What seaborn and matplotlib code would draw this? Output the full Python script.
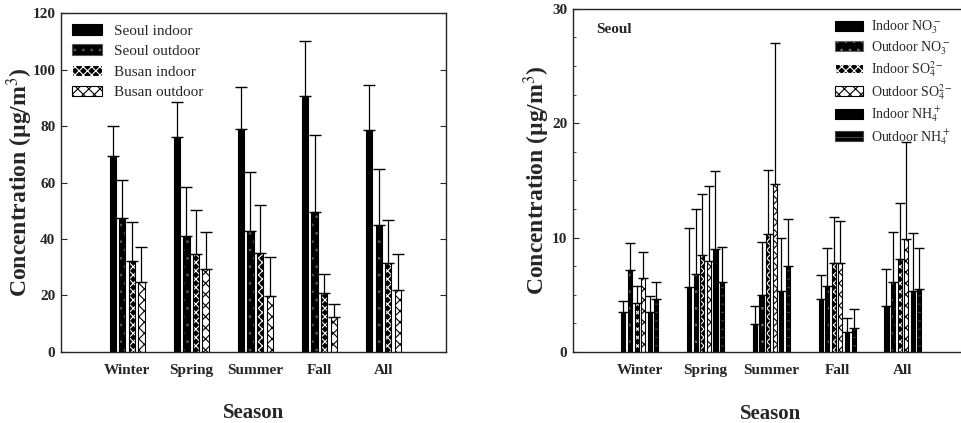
import numpy as np
import pandas as pd
import seaborn as sns
import matplotlib.pyplot as plt
from matplotlib.ticker import MultipleLocator

sns.set_style("ticks")
plt.rcParams['font.family'] = ['Liberation Serif', 'DejaVu Serif']
plt.rcParams['mathtext.fontset'] = 'stix'
plt.rcParams['hatch.linewidth'] = 0.8

seasons = ["Winter", "Spring", "Summer", "Fall", "All"]

# PM concentrations (mean, sd) - left panel
pm_groups = ["Seoul indoor", "Seoul outdoor", "Busan indoor", "Busan outdoor"]
seoul_in = [69.5, 76.0, 79.0, 90.5, 78.7]
seoul_in_sd = [10.5, 12.6, 15.0, 19.8, 15.8]
seoul_out = [47.3, 41.0, 43.0, 49.6, 45.0]
seoul_out_sd = [13.7, 17.4, 20.6, 27.4, 19.8]
busan_in = [32.3, 34.8, 35.0, 20.9, 31.6]
busan_in_sd = [13.6, 15.5, 17.0, 6.8, 15.0]
busan_out = [24.7, 29.3, 19.9, 12.2, 21.9]
busan_out_sd = [12.5, 13.3, 13.6, 4.9, 12.9]

# ions in Seoul (mean, sd) - right panel
ion_groups = ["Indoor NO$_3^-$", "Outdoor NO$_3^-$", "Indoor SO$_4^{2-}$",
              "Outdoor SO$_4^{2-}$", "Indoor NH$_4^+$", "Outdoor NH$_4^+$"]
in_no3 = [3.45, 5.7, 2.4, 4.6, 4.0]
in_no3_sd = [1.0, 5.1, 1.65, 2.1, 3.25]
out_no3 = [7.15, 6.8, 5.0, 5.8, 6.1]
out_no3_sd = [2.4, 5.7, 4.6, 3.3, 4.4]
in_so4 = [4.25, 8.5, 10.3, 7.8, 8.1]
in_so4_sd = [1.5, 5.3, 5.6, 4.0, 4.95]
out_so4 = [6.45, 7.95, 14.7, 7.8, 9.85]
out_so4_sd = [2.3, 6.55, 12.3, 3.65, 8.55]
in_nh4 = [3.45, 9.0, 5.3, 1.7, 5.3]
in_nh4_sd = [1.45, 6.8, 4.7, 1.3, 5.1]
out_nh4 = [4.65, 6.1, 7.5, 2.1, 5.5]
out_nh4_sd = [1.5, 3.1, 4.1, 1.65, 3.6]

pm_means = [seoul_in, seoul_out, busan_in, busan_out]
pm_sds = [seoul_in_sd, seoul_out_sd, busan_in_sd, busan_out_sd]
ion_means = [in_no3, out_no3, in_so4, out_so4, in_nh4, out_nh4]
ion_sds = [in_no3_sd, out_no3_sd, in_so4_sd, out_so4_sd, in_nh4_sd, out_nh4_sd]

# (face, hatch colour, hatch)
pm_styles = [("black", "black", None), ("black", "#555555", ".."),
             ("black", "white", "xxxx"), ("white", "black", "xxx")]
ion_styles = [("black", "black", None), ("black", "#666666", ".."),
              ("black", "white", "xxxx"), ("white", "black", "xxx"),
              ("black", "black", None), ("black", "#444444", "--")]


def long_table(groups, means, sds):
    rows = []
    for g, m, s in zip(groups, means, sds):
        for season, v, e in zip(seasons, m, s):
            rows.append({"Season": season, "group": g, "value": v, "sd": e})
    return pd.DataFrame(rows)


def draw(ax, df, groups, styles, gap, capsize):
    sns.barplot(data=df, x="Season", y="value", hue="group", order=seasons,
                hue_order=groups, width=0.6, gap=gap, errorbar=None, ax=ax,
                legend=False)
    bars = list(ax.containers)
    for i, cont in enumerate(bars):
        face, hc, hatch = styles[i]
        sub = df[df["group"] == groups[i]].set_index("Season").loc[seasons]
        xs = []
        for bar in cont:
            bar.set_facecolor(face)
            bar.set_edgecolor(hc)
            bar.set_linewidth(0)
            if hatch:
                bar.set_hatch(hatch)
            xs.append(bar.get_x() + bar.get_width() / 2)
            ax.add_patch(plt.Rectangle((bar.get_x(), 0), bar.get_width(),
                                       bar.get_height(), fill=False,
                                       edgecolor="black", lw=0.8, zorder=3))
        xs = np.array(xs)
        ax.errorbar(xs, sub["value"], yerr=[np.zeros(len(xs)), sub["sd"]],
                    fmt="none", ecolor="black", elinewidth=0.9,
                    capsize=capsize, capthick=1.0, zorder=4)
    handles = []
    for face, hc, hatch in styles:
        handles.append(plt.Rectangle((0, 0), 1, 1, facecolor=face,
                                     edgecolor=hc if hatch else "black",
                                     hatch=hatch, lw=0.8))
    return handles


fig = plt.figure(figsize=(9.61, 4.23), dpi=100)
ax1 = fig.add_axes([0.0635, 0.168, 0.401, 0.801])
ax2 = fig.add_axes([0.596, 0.168, 0.412, 0.811])

df_pm = long_table(pm_groups, pm_means, pm_sds)
h1 = draw(ax1, df_pm, pm_groups, pm_styles, gap=0.35, capsize=4)
ax1.set_xlim(-1.03, 4.98)
ax1.set_ylim(0, 120)
ax1.yaxis.set_major_locator(MultipleLocator(20))
ax1.legend(h1, pm_groups, loc="upper left", frameon=False, fontsize=11,
           handlelength=2.0, handleheight=0.7, handletextpad=0.8,
           labelspacing=0.45, borderaxespad=0.3)

df_ion = long_table(ion_groups, ion_means, ion_sds)
h2 = draw(ax2, df_ion, ion_groups, ion_styles, gap=0.38, capsize=3.5)
ax2.set_xlim(-1.02, 5.0)
ax2.set_ylim(0, 30)
ax2.yaxis.set_major_locator(MultipleLocator(10))
ax2.yaxis.set_minor_locator(MultipleLocator(2.5))
ax2.legend(h2, ion_groups, loc="upper right", frameon=False, fontsize=10,
           handlelength=2.0, handleheight=0.7, handletextpad=0.6,
           labelspacing=0.2, borderaxespad=0.3, bbox_to_anchor=(0.985, 1.0))
ax2.text(0.06, 0.94, "Seoul", transform=ax2.transAxes, fontsize=11,
         fontweight="bold", va="center")

for ax, ylx in ((ax1, -0.106), (ax2, -0.091)):
    ax.set_xlabel("Season", fontsize=15, fontweight="bold")
    ax.set_ylabel("Concentration (\u00b5g/m$^3$)", fontsize=17,
                  fontweight="bold")
    ax.xaxis.set_label_coords(0.5, -0.18)
    ax.yaxis.set_label_coords(ylx, 0.5)
    ax.xaxis.label.set_va("center")
    ax.yaxis.label.set_va("center")
    ax.tick_params(axis="x", length=0, pad=9, labelsize=11)
    ax.tick_params(axis="y", direction="in", length=4, labelsize=11,
                   right=True, pad=4)
    ax.tick_params(axis="y", which="minor", direction="in", length=2,
                   right=True)
    for lab in ax.get_xticklabels() + ax.get_yticklabels():
        lab.set_fontweight("bold")
    for s in ax.spines.values():
        s.set_visible(True)
        s.set_linewidth(1.0)

fig.savefig("out.png", dpi=100)
